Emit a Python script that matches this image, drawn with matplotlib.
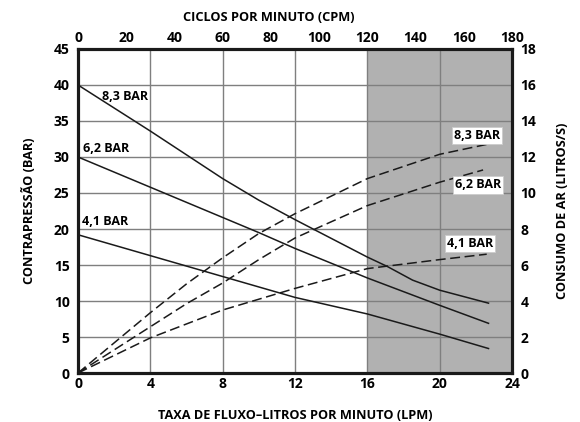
import matplotlib.pyplot as plt

plt.rcParams['font.family'] = ['Open Sans', 'DejaVu Sans']
plt.rcParams['font.weight'] = 'bold'

# back pressure (bar) vs flow rate (LPM), one list per air inlet pressure
flow_83 = [0, 4, 8, 10, 12, 16, 17.1, 18.5, 20, 22.7]
bp_83 = [40, 33.6, 27.0, 24.0, 21.3, 16.1, 14.8, 12.9, 11.5, 9.7]
flow_62 = [0, 4, 8, 10, 12, 16, 20, 22.7]
bp_62 = [30, 25.8, 21.6, 19.5, 17.3, 13.2, 9.4, 6.9]
flow_41 = [0, 4, 8, 12, 16, 20, 22.7]
bp_41 = [19.2, 16.3, 13.4, 10.5, 8.2, 5.4, 3.4]

# air consumption (L/s) vs flow rate (LPM)
air_flow_83 = [0, 4, 6, 8, 10, 12, 16, 20, 22.6]
air_83 = [0, 3.35, 4.95, 6.4, 7.75, 8.85, 10.8, 12.15, 12.7]
air_flow_62 = [0, 4, 6, 8, 10, 12, 16, 20, 22.4]
air_62 = [0, 2.57, 3.85, 5.0, 6.3, 7.5, 9.3, 10.6, 11.28]
air_flow_41 = [0, 4, 8, 12, 16, 20, 22.6]
air_41 = [0, 1.95, 3.5, 4.7, 5.8, 6.3, 6.6]

x_ticks = [0, 4, 8, 12, 16, 20, 24]
y_ticks = [0, 5, 10, 15, 20, 25, 30, 35, 40, 45]
cpm_ticks = [0, 20, 40, 60, 80, 100, 120, 140, 160, 180]
air_ticks = [0, 2, 4, 6, 8, 10, 12, 14, 16, 18]

fig = plt.figure(figsize=(5.8, 4.22), dpi=100)
ax = fig.add_axes([0.1345, 0.1161, 0.7483, 0.7678])

ax.axvspan(16, 24, color='#b1b1b1', zorder=0, lw=0)
ax.set_xlim(0, 24)
ax.set_ylim(0, 45)
ax.set_xticks(x_ticks)
ax.set_yticks(y_ticks)
ax.grid(True, color='#7f7f7f', linewidth=1.0, zorder=0.5)
ax.set_axisbelow(True)

line_kw = dict(color='#1a1a1a', linewidth=1.1)
ax.plot(flow_83, bp_83, **line_kw)
ax.plot(flow_62, bp_62, **line_kw)
ax.plot(flow_41, bp_41, **line_kw)

lab_kw = dict(fontsize=9, fontweight='bold', va='center')
ax.text(1.35, 38.4, '8,3 BAR', **lab_kw)
ax.text(0.25, 31.2, '6,2 BAR', **lab_kw)
ax.text(0.2, 21.1, '4,1 BAR', **lab_kw)

ax2 = ax.twinx()
ax2.set_ylim(0, 18)
ax2.set_yticks(air_ticks)
dash_kw = dict(color='#1a1a1a', linewidth=1.1, linestyle=(0, (6.5, 3)))
ax2.plot(air_flow_83, air_83, **dash_kw)
ax2.plot(air_flow_62, air_62, **dash_kw)
ax2.plot(air_flow_41, air_41, **dash_kw)

box = dict(facecolor='white', edgecolor='#cccccc', linewidth=0.6, pad=1.5)
ax2.text(20.8, 13.18, '8,3 BAR', bbox=box, **lab_kw)
ax2.text(20.85, 10.45, '6,2 BAR', bbox=box, **lab_kw)
ax2.text(20.4, 7.2, '4,1 BAR', bbox=box, **lab_kw)

ax3 = ax.twiny()
ax3.set_xlim(0, 180)
ax3.set_xticks(cpm_ticks)

for a in (ax, ax2, ax3):
    a.tick_params(length=0, labelsize=10, pad=3)
    for s in a.spines.values():
        s.set_linewidth(2.2)
        s.set_color('#1a1a1a')
ax.tick_params(axis='y', pad=6)
ax2.tick_params(axis='y', pad=6)

title_kw = dict(fontsize=9.2, fontweight='bold')
ax.set_xlabel('TAXA DE FLUXO\u2013LITROS POR MINUTO (LPM)', labelpad=13, **title_kw)
ax.set_ylabel('CONTRAPRESSÃO (BAR)', labelpad=13, **title_kw)
ax2.set_ylabel('CONSUMO DE AR (LITROS/S)', rotation=90, labelpad=14, **title_kw)
fig.text(0.463, 0.959, 'CICLOS POR MINUTO (CPM)', ha='center', va='center', **title_kw)

fig.savefig('out.png', dpi=100)
